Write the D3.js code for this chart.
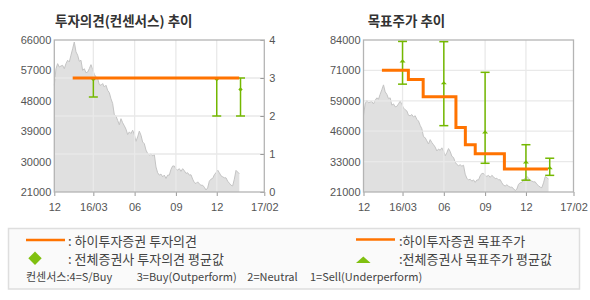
<!DOCTYPE html>
<html>
<head>
<meta charset="utf-8">
<script src="https://cdn.jsdelivr.net/npm/d3@7.9.0/dist/d3.min.js"></script>
<style>
  body { margin: 0; background: #fff; }
  svg { display: block; font-family: "Liberation Sans", Arial, sans-serif; }
  .ttl { font-family: "Noto Sans CJK KR", sans-serif; font-weight: bold; font-size: 13.5px; fill: #333; }
  .ax text { font-family: "Liberation Sans", Arial, sans-serif; font-size: 11px; fill: #555; }
  .ax line { stroke: #999; }
  .ax path { display: none; }
  .lg { font-family: "Noto Sans CJK KR", sans-serif; font-size: 13px; fill: #444; }
  .lg3 { font-family: "Noto Sans CJK KR", sans-serif; font-size: 11px; fill: #444; }
</style>
</head>
<body>
<div id="chart"></div>
<script>
// ── data ───────────────────────────────────────────────────
const xDomain     = ["2015-12-05", "2017-03-17"];
const xTickDates  = ["2015-12-05", "2016-03-01", "2016-06-01", "2016-09-01", "2016-12-01", "2017-03-17"];
const xTickLabels = ["12", "16/03", "06", "09", "12", "17/02"];

// close price, one reading every ~3.7 days from priceStart
const priceStart    = "2015-12-05";
const priceStepDays = 3.715;
const priceValues = [
  52600, 57500, 59000, 58000, 58300, 58500, 57500, 59000, 60000, 59500,
  61500, 63400, 65400, 62500, 61500, 59700, 60000, 57000, 57500, 56300,
  56500, 57500, 58700, 57300, 55800, 55100, 54600, 52800, 52600, 53100,
  52100, 52600, 51100, 50400, 48600, 47200, 43900, 43500, 42200, 40900,
  42700, 41500, 40600, 39600, 38000, 38800, 38300, 39300, 38000, 36000,
  37300, 39000, 37800, 35800, 35300, 33400, 32400, 31900, 32300, 31700,
  32100, 28400, 26700, 26000, 26300, 25500, 26000, 25000, 26000, 26000,
  27700, 28700, 28700, 27700, 27500, 27900, 27100, 27900, 27300, 26500,
  26700, 26000, 26100, 24800, 23800, 23500, 24000, 23400, 23000, 23000,
  22400, 21600, 22200, 24200, 24800, 25000, 26100, 26700, 27500, 26700,
  25800, 25500, 25200, 25200, 24200, 23600, 23000, 22800, 24800, 27400,
  26900, 26400
];

// left panel: opinion
const priceTicksL  = [21000, 30000, 39000, 48000, 57000, 66000];
const opinionTicks = [0, 1, 2, 3, 4];
const opinionDates  = ["2016-01-15", "2017-01-20"];
const opinionValues = [3, 3];
const opConsDates = ["2016-03-01", "2016-12-01", "2017-01-23"];
const opConsHigh  = [3, 3, 3];
const opConsAvg   = [2.97, 2.97, 2.7];
const opConsLow   = [2.5, 2, 2];

// right panel: target price
const targetTickValues = [21000, 33600, 46200, 58800, 71400, 84000];
const targetTickLabels = ["21000", "33000", "46000", "59000", "71000", "84000"];
const targetDates  = ["2016-01-15", "2016-03-14", "2016-04-16", "2016-06-28", "2016-07-19", "2016-08-10", "2016-10-14", "2017-01-19"];
const targetValues = [71500, 67600, 60500, 47700, 40600, 36900, 30500, 30500];
const tgConsDates = ["2016-03-01", "2016-06-01", "2016-09-01", "2016-12-01", "2017-01-23"];
const tgConsHigh  = [83400, 83300, 70600, 40600, 35000];
const tgConsAvg   = [75300, 66200, 45800, 33400, 31000];
const tgConsLow   = [65700, 48500, 32900, 25900, 27900];

// ── setup ──────────────────────────────────────────────────
const parse = d3.timeParse("%Y-%m-%d");
const ORANGE = "#ff7300", GREEN = "#74b800", GRID = "#e9e9e9";
const W = 210, H = 152;

const t0 = parse(priceStart);
const price = priceValues.map((v, i) => ({
  date: new Date(t0.getTime() + i * priceStepDays * 864e5), value: v
}));

const svg = d3.select("#chart").append("svg")
  .attr("width", 590).attr("height", 300);

function panel(left, yPrice, title, titleX) {
  const g = svg.append("g").attr("transform", `translate(${left},40)`);
  const x = d3.scaleTime().domain(xDomain.map(parse)).range([0, W]);

  svg.append("text").attr("class", "ttl")
    .attr("x", titleX).attr("y", 26).text(title);

  g.append("path").datum(price)
    .attr("fill", "#e0e0e0")
    .attr("d", d3.area().x(d => x(d.date)).y0(H).y1(d => yPrice(d.value)));
  g.append("path").datum(price)
    .attr("fill", "none").attr("stroke", "#c4c4c4").attr("stroke-width", 1)
    .attr("d", d3.line().x(d => x(d.date)).y(d => yPrice(d.value)));

  // vertical grid
  g.append("g").selectAll("line")
    .data(xTickDates.slice(1, -1).map(parse))
    .join("line")
      .attr("x1", d => x(d)).attr("x2", d => x(d))
      .attr("y1", 0).attr("y2", H)
      .attr("stroke", GRID).attr("stroke-width", 1.3);

  g.append("g").attr("class", "ax")
    .attr("transform", `translate(0,${H})`)
    .call(d3.axisBottom(x)
      .tickValues(xTickDates.map(parse))
      .tickFormat((d, i) => xTickLabels[i])
      .tickSize(4).tickPadding(7));

  return { g, x };
}

function hGrid(g, y, vals) {
  g.append("g").selectAll("line").data(vals).join("line")
    .attr("x1", 0).attr("x2", W)
    .attr("y1", d => y(d)).attr("y2", d => y(d))
    .attr("stroke", GRID).attr("stroke-width", 1.3);
}

function border(g) {
  g.append("rect").attr("width", W).attr("height", H)
    .attr("fill", "none").attr("stroke", "#b4b4b4").attr("stroke-width", 1.3);
}

function consensus(g, x, y, dates, hi, avg, lo, marker) {
  const rows = dates.map((d, i) => ({ date: parse(d), hi: hi[i], avg: avg[i], lo: lo[i] }));
  const bars = g.append("g").selectAll("g").data(rows).join("g")
    .attr("stroke", GREEN).attr("stroke-width", 1.5);
  bars.append("line")
    .attr("x1", d => x(d.date)).attr("x2", d => x(d.date))
    .attr("y1", d => y(d.hi)).attr("y2", d => y(d.lo));
  bars.append("line")
    .attr("x1", d => x(d.date) - 4.5).attr("x2", d => x(d.date) + 4.5)
    .attr("y1", d => y(d.hi)).attr("y2", d => y(d.hi));
  bars.append("line")
    .attr("x1", d => x(d.date) - 4.5).attr("x2", d => x(d.date) + 4.5)
    .attr("y1", d => y(d.lo)).attr("y2", d => y(d.lo));
  bars.append("path")
    .attr("stroke", "none").attr("fill", GREEN)
    .attr("transform", d => `translate(${x(d.date)},${y(d.avg)})`)
    .attr("d", marker);
}

function stepLine(g, x, y, dates, values) {
  const pts = dates.map((d, i) => [x(parse(d)), y(values[i])]);
  g.append("path").datum(pts)
    .attr("fill", "none").attr("stroke", ORANGE).attr("stroke-width", 3)
    .attr("d", d3.line().curve(d3.curveStepAfter));
}

const smallDiamond = "M0,-2.2L2.2,0L0,2.2L-2.2,0Z";
const smallTri = "M0,-1.8L3,1.4L-3,1.4Z";

// ── left: 투자의견 ─────────────────────────────────────────
{
  const yP = d3.scaleLinear().domain([21000, 66000]).range([H, 0]);
  const yO = d3.scaleLinear().domain([0, 4]).range([H, 0]);
  const { g, x } = panel(54.3, yP, "투자의견(컨센서스) 추이", 55);
  hGrid(g, yO, opinionTicks.slice(1, -1));

  g.append("g").attr("class", "ax")
    .call(d3.axisLeft(yP).tickValues(priceTicksL).tickFormat(d3.format("d"))
      .tickSize(0).tickPadding(3));
  g.append("g").attr("class", "ax")
    .attr("transform", `translate(${W},0)`)
    .call(d3.axisRight(yO).tickValues(opinionTicks).tickFormat(d3.format("d"))
      .tickSize(-4).tickPadding(5));

  border(g);
  consensus(g, x, yO, opConsDates, opConsHigh, opConsAvg, opConsLow, smallDiamond);
  stepLine(g, x, yO, opinionDates, opinionValues);
}

// ── right: 목표주가 ────────────────────────────────────────
{
  const yT = d3.scaleLinear().domain([21000, 84000]).range([H, 0]);
  const { g, x } = panel(363.5, yT, "목표주가 추이", 367.7);
  hGrid(g, yT, targetTickValues.slice(1, -1));

  g.append("g").attr("class", "ax")
    .call(d3.axisLeft(yT).tickValues(targetTickValues)
      .tickFormat((d, i) => targetTickLabels[i])
      .tickSize(0).tickPadding(3));

  border(g);
  consensus(g, x, yT, tgConsDates, tgConsHigh, tgConsAvg, tgConsLow, smallTri);
  stepLine(g, x, yT, targetDates, targetValues);
}

// ── legend ─────────────────────────────────────────────────
const lg = svg.append("g");
lg.append("rect").attr("x", 8.5).attr("y", 228.5).attr("width", 571).attr("height", 60.5)
  .attr("fill", "#fafafa").attr("stroke", "#dedede").attr("stroke-width", 1.5);

lg.append("line").attr("x1", 26).attr("x2", 65).attr("y1", 240).attr("y2", 240)
  .attr("stroke", ORANGE).attr("stroke-width", 2.5);
lg.append("text").attr("class", "lg").attr("x", 68).attr("y", 246).text(": 하이투자증권 투자의견");
lg.append("path").attr("transform", "translate(35,258.3)")
  .attr("fill", "#80c010").attr("d", "M0,-6.7L6.7,0L0,6.7L-6.7,0Z");
lg.append("text").attr("class", "lg").attr("x", 68).attr("y", 264).text(": 전체증권사 투자의견 평균값");

lg.append("line").attr("x1", 356).attr("x2", 395).attr("y1", 239.5).attr("y2", 239.5)
  .attr("stroke", ORANGE).attr("stroke-width", 2.5);
lg.append("text").attr("class", "lg").attr("x", 399).attr("y", 246).text(":하이투자증권 목표주가");
lg.append("path").attr("transform", "translate(363.3,260)")
  .attr("fill", "#80c010").attr("d", "M0,-3.6L7.3,3L-7.3,3Z");
lg.append("text").attr("class", "lg").attr("x", 399).attr("y", 264).text(":전체증권사 목표주가 평균값");

const consLabels = ["컨센서스:4=S/Buy", "3=Buy(Outperform)", "2=Neutral", "1=Sell(Underperform)"];
const consX = [26, 136.7, 247.3, 310];
lg.selectAll("text.lg3").data(consLabels).join("text")
  .attr("class", "lg3").attr("x", (d, i) => consX[i]).attr("y", 281).text(d => d);
</script>
</body>
</html>
